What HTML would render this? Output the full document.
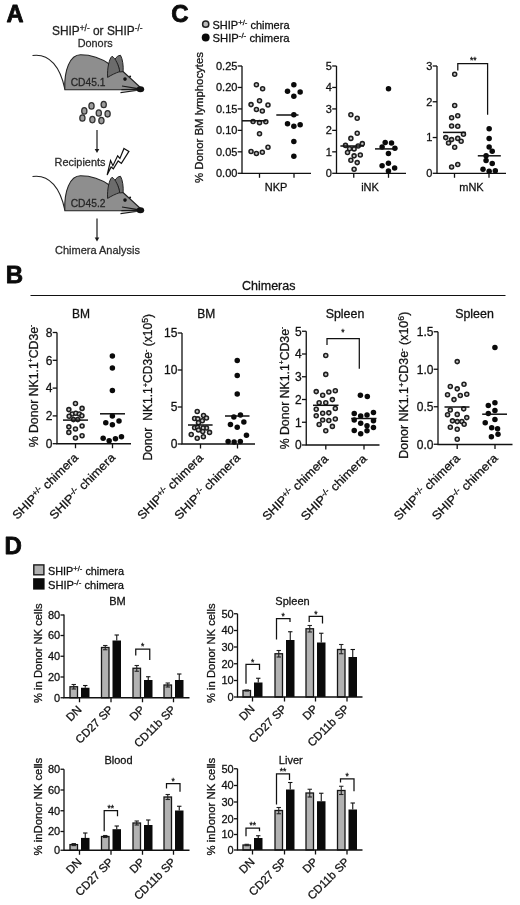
<!DOCTYPE html>
<html lang="en"><head><meta charset="utf-8"><title>SHIP chimera figure</title>
<style>html,body{margin:0;padding:0;background:#fff}body{width:520px;height:905px;overflow:hidden}svg{display:block;filter:blur(0.3px)}</style>
</head><body>
<svg width="520" height="905" viewBox="0 0 520 905" font-family='"Liberation Sans", sans-serif' fill="#111">
<rect width="520" height="905" fill="#fff"/>
<text x="6.50" y="22.20" font-size="23.6" font-weight="bold" fill="#0a0a0a" stroke="#0a0a0a" stroke-width="0.8" stroke-linejoin="round">A</text>
<text x="5.80" y="282.70" font-size="24" font-weight="bold" fill="#0a0a0a" stroke="#0a0a0a" stroke-width="0.8" stroke-linejoin="round">B</text>
<text x="171.30" y="22.10" font-size="24" font-weight="bold" fill="#0a0a0a" stroke="#0a0a0a" stroke-width="0.8" stroke-linejoin="round">C</text>
<text x="4.40" y="554.10" font-size="24" font-weight="bold" fill="#0a0a0a" stroke="#0a0a0a" stroke-width="0.8" stroke-linejoin="round">D</text>
<g id="panelA">
<text x="52.00" y="35.30" font-size="12" fill="#222" stroke="#222" stroke-width="0.28" textLength="90.5" lengthAdjust="spacingAndGlyphs">SHIP<tspan font-size="8.4" dy="-4.1">+/-</tspan><tspan dy="4.1"> or </tspan>SHIP<tspan font-size="8.4" dy="-4.1">-/-</tspan></text>
<text x="95.20" y="47.40" font-size="11.5" text-anchor="middle" fill="#2b2b2b" stroke="#2b2b2b" stroke-width="0.28" textLength="35.0" lengthAdjust="spacingAndGlyphs">Donors</text>
<g transform="translate(0 0)">
<path d="M32.5 55.5C50 53 60.5 68 64.8 89" stroke="#222" stroke-width="1.1" fill="none"/>
<path d="M64.8 89.7C64 70 70 54.8 80.5 54.8C92 54.8 103 59.5 110 64.5L123 71.5L141 88L139 89.7Z" stroke="#222" stroke-width="1.1" fill="#8e8e8e" stroke-linejoin="round"/>
<path d="M114.5 60C116 57 118.5 55.3 120.5 55.3C122.6 59 123.6 66 123.1 71.6L119.5 72C119 66 116.5 61.5 114.5 60Z" stroke="#222" stroke-width="1" fill="#6c6c6c" stroke-linejoin="round"/>
<path d="M107.6 77.4C107 68 109.5 58 112 56.3C115.5 58 119 66 119.7 71.6C116 72.7 110.5 75.5 107.6 77.4Z" stroke="#222" stroke-width="1" fill="#6c6c6c" stroke-linejoin="round"/>
<circle cx="125" cy="79.1" r="1.8" fill="#111"/><circle cx="130.1" cy="76.6" r="1" fill="#111"/>
<path d="M138 88.6L122 86M138 89.4L121.4 89.6M138 90.2L120.5 92.6" stroke="#1a1a1a" stroke-width="1.1" fill="none"/>
<ellipse cx="140.4" cy="89.2" rx="3.8" ry="3" fill="#111"/>
<text x="70.70" y="86.40" font-size="11.5" fill="#262626" stroke="#262626" stroke-width="0.28" textLength="34.8" lengthAdjust="spacingAndGlyphs">CD45.1</text>
</g>
<ellipse cx="91.5" cy="105.9" rx="2.6" ry="3.2" fill="#9c9c9c" stroke="#333" stroke-width="1.3"/>
<ellipse cx="103.7" cy="104.5" rx="2.6" ry="3.2" fill="#9c9c9c" stroke="#333" stroke-width="1.3"/>
<ellipse cx="84.3" cy="110.9" rx="2.6" ry="3.2" fill="#9c9c9c" stroke="#333" stroke-width="1.3"/>
<ellipse cx="98.8" cy="113" rx="2.6" ry="3.2" fill="#9c9c9c" stroke="#333" stroke-width="1.3"/>
<ellipse cx="107.6" cy="113.8" rx="2.6" ry="3.2" fill="#9c9c9c" stroke="#333" stroke-width="1.3"/>
<ellipse cx="82.4" cy="118" rx="2.6" ry="3.2" fill="#9c9c9c" stroke="#333" stroke-width="1.3"/>
<ellipse cx="92.4" cy="119.6" rx="2.6" ry="3.2" fill="#9c9c9c" stroke="#333" stroke-width="1.3"/>
<ellipse cx="101.4" cy="120.6" rx="2.6" ry="3.2" fill="#9c9c9c" stroke="#333" stroke-width="1.3"/>
<line x1="97.00" y1="130.00" x2="97.00" y2="151.00" stroke="#1a1a1a" stroke-width="1.2"/>
<path d="M94.7 149L97 153L99.3 149Z" fill="#1a1a1a"/>
<text x="54.50" y="166.25" font-size="11.5" fill="#2b2b2b" stroke="#2b2b2b" stroke-width="0.28" textLength="51.0" lengthAdjust="spacingAndGlyphs">Recipients</text>
<path d="M123.98 148.48L128.91 151.42L121.38 163.36L118.18 160.93L113.34 168.81L111.09 166.99L107.11 175.03L110.57 160.59L112.91 165.69L117.66 155.83L119.91 158.43Z" stroke="#111" stroke-width="1.2" fill="#fff" stroke-linejoin="miter"/>
<g transform="translate(0 121)">
<path d="M32.5 55.5C50 53 60.5 68 64.8 89" stroke="#222" stroke-width="1.1" fill="none"/>
<path d="M64.8 89.7C64 70 70 54.8 80.5 54.8C92 54.8 103 59.5 110 64.5L123 71.5L141 88L139 89.7Z" stroke="#222" stroke-width="1.1" fill="#8e8e8e" stroke-linejoin="round"/>
<path d="M114.5 60C116 57 118.5 55.3 120.5 55.3C122.6 59 123.6 66 123.1 71.6L119.5 72C119 66 116.5 61.5 114.5 60Z" stroke="#222" stroke-width="1" fill="#6c6c6c" stroke-linejoin="round"/>
<path d="M107.6 77.4C107 68 109.5 58 112 56.3C115.5 58 119 66 119.7 71.6C116 72.7 110.5 75.5 107.6 77.4Z" stroke="#222" stroke-width="1" fill="#6c6c6c" stroke-linejoin="round"/>
<circle cx="125" cy="79.1" r="1.8" fill="#111"/><circle cx="130.1" cy="76.6" r="1" fill="#111"/>
<path d="M138 88.6L122 86M138 89.4L121.4 89.6M138 90.2L120.5 92.6" stroke="#1a1a1a" stroke-width="1.1" fill="none"/>
<ellipse cx="140.4" cy="89.2" rx="3.8" ry="3" fill="#111"/>
<text x="70.70" y="86.40" font-size="11.5" fill="#262626" stroke="#262626" stroke-width="0.28" textLength="34.8" lengthAdjust="spacingAndGlyphs">CD45.2</text>
</g>
<line x1="97.00" y1="218.50" x2="97.00" y2="239.50" stroke="#1a1a1a" stroke-width="1.2"/>
<path d="M94.7 237.5L97 241.5L99.3 237.5Z" fill="#1a1a1a"/>
<text x="55.00" y="254.25" font-size="11.5" fill="#2b2b2b" stroke="#2b2b2b" stroke-width="0.28" textLength="85.0" lengthAdjust="spacingAndGlyphs">Chimera Analysis</text>
</g>
<g id="panelC">
<circle cx="205.7" cy="24.2" r="3.1" fill="#bdbdbd" stroke="#222" stroke-width="1.5"/>
<circle cx="205.7" cy="37.5" r="3.95" fill="#0a0a0a"/>
<text x="212.50" y="28.50" font-size="11" stroke="#111" stroke-width="0.28" textLength="77.0" lengthAdjust="spacingAndGlyphs">SHIP<tspan font-size="7.7" dy="-3.7">+/-</tspan><tspan dy="3.7"> chimera</tspan></text>
<text x="212.50" y="41.50" font-size="11" stroke="#111" stroke-width="0.28" textLength="77.0" lengthAdjust="spacingAndGlyphs">SHIP<tspan font-size="7.7" dy="-3.7">-/-</tspan><tspan dy="3.7"> chimera</tspan></text>
<text x="203.30" y="117.50" font-size="11.3" text-anchor="middle" transform="rotate(-90 203.30 117.50)" stroke="#111" stroke-width="0.28" textLength="131.0" lengthAdjust="spacingAndGlyphs">% Donor BM lymphocytes</text>
<path d="M242.00 66.00V173.30H311.00" stroke="#111" stroke-width="1.3" fill="none"/>
<line x1="237.70" y1="66.00" x2="242.00" y2="66.00" stroke="#111" stroke-width="1.3"/>
<text x="237.40" y="69.96" font-size="11" text-anchor="end" stroke="#111" stroke-width="0.28">0.25</text>
<line x1="237.70" y1="87.46" x2="242.00" y2="87.46" stroke="#111" stroke-width="1.3"/>
<text x="237.40" y="91.42" font-size="11" text-anchor="end" stroke="#111" stroke-width="0.28">0.20</text>
<line x1="237.70" y1="108.92" x2="242.00" y2="108.92" stroke="#111" stroke-width="1.3"/>
<text x="237.40" y="112.88" font-size="11" text-anchor="end" stroke="#111" stroke-width="0.28">0.15</text>
<line x1="237.70" y1="130.38" x2="242.00" y2="130.38" stroke="#111" stroke-width="1.3"/>
<text x="237.40" y="134.34" font-size="11" text-anchor="end" stroke="#111" stroke-width="0.28">0.10</text>
<line x1="237.70" y1="151.84" x2="242.00" y2="151.84" stroke="#111" stroke-width="1.3"/>
<text x="237.40" y="155.80" font-size="11" text-anchor="end" stroke="#111" stroke-width="0.28">0.05</text>
<line x1="237.70" y1="173.30" x2="242.00" y2="173.30" stroke="#111" stroke-width="1.3"/>
<text x="237.40" y="177.26" font-size="11" text-anchor="end" stroke="#111" stroke-width="0.28">0.00</text>
<line x1="259.50" y1="173.30" x2="259.50" y2="177.80" stroke="#111" stroke-width="1.3"/>
<line x1="294.00" y1="173.30" x2="294.00" y2="177.80" stroke="#111" stroke-width="1.3"/>
<text x="276.00" y="190.50" font-size="11" text-anchor="middle" stroke="#111" stroke-width="0.28">NKP</text>
<circle cx="256.42" cy="84.83" r="2.00" fill="#c8c8c8" stroke="#1e1e1e" stroke-width="1.55"/>
<circle cx="262.61" cy="88.73" r="2.00" fill="#c8c8c8" stroke="#1e1e1e" stroke-width="1.55"/>
<circle cx="259.52" cy="100.71" r="2.00" fill="#c8c8c8" stroke="#1e1e1e" stroke-width="1.55"/>
<circle cx="251.04" cy="104.61" r="2.00" fill="#c8c8c8" stroke="#1e1e1e" stroke-width="1.55"/>
<circle cx="267.99" cy="105.01" r="2.00" fill="#c8c8c8" stroke="#1e1e1e" stroke-width="1.55"/>
<circle cx="256.42" cy="109.45" r="2.00" fill="#c8c8c8" stroke="#1e1e1e" stroke-width="1.55"/>
<circle cx="262.34" cy="111.07" r="2.00" fill="#c8c8c8" stroke="#1e1e1e" stroke-width="1.55"/>
<circle cx="253.06" cy="121.57" r="2.00" fill="#c8c8c8" stroke="#1e1e1e" stroke-width="1.55"/>
<circle cx="259.52" cy="122.64" r="2.00" fill="#c8c8c8" stroke="#1e1e1e" stroke-width="1.55"/>
<circle cx="265.84" cy="121.70" r="2.00" fill="#c8c8c8" stroke="#1e1e1e" stroke-width="1.55"/>
<circle cx="259.52" cy="133.82" r="2.00" fill="#c8c8c8" stroke="#1e1e1e" stroke-width="1.55"/>
<circle cx="267.99" cy="147.27" r="2.00" fill="#c8c8c8" stroke="#1e1e1e" stroke-width="1.55"/>
<circle cx="251.04" cy="151.45" r="2.00" fill="#c8c8c8" stroke="#1e1e1e" stroke-width="1.55"/>
<circle cx="256.42" cy="153.47" r="2.00" fill="#c8c8c8" stroke="#1e1e1e" stroke-width="1.55"/>
<circle cx="262.34" cy="152.25" r="2.00" fill="#c8c8c8" stroke="#1e1e1e" stroke-width="1.55"/>
<circle cx="293.84" cy="84.83" r="2.75" fill="#0a0a0a"/>
<circle cx="287.51" cy="91.15" r="2.75" fill="#0a0a0a"/>
<circle cx="300.16" cy="92.09" r="2.75" fill="#0a0a0a"/>
<circle cx="293.84" cy="96.13" r="2.75" fill="#0a0a0a"/>
<circle cx="293.84" cy="114.70" r="2.75" fill="#0a0a0a"/>
<circle cx="287.51" cy="123.86" r="2.75" fill="#0a0a0a"/>
<circle cx="293.84" cy="126.14" r="2.75" fill="#0a0a0a"/>
<circle cx="300.16" cy="124.80" r="2.75" fill="#0a0a0a"/>
<circle cx="293.84" cy="141.49" r="2.75" fill="#0a0a0a"/>
<circle cx="293.84" cy="156.16" r="2.75" fill="#0a0a0a"/>
<line x1="242.00" y1="120.80" x2="266.30" y2="120.80" stroke="#111" stroke-width="1.5"/>
<line x1="276.30" y1="115.00" x2="298.50" y2="115.00" stroke="#111" stroke-width="1.5"/>
<path d="M336.50 66.00V173.30H406.00" stroke="#111" stroke-width="1.3" fill="none"/>
<line x1="332.20" y1="66.00" x2="336.50" y2="66.00" stroke="#111" stroke-width="1.3"/>
<text x="331.90" y="69.96" font-size="11" text-anchor="end" stroke="#111" stroke-width="0.28">5</text>
<line x1="332.20" y1="87.46" x2="336.50" y2="87.46" stroke="#111" stroke-width="1.3"/>
<text x="331.90" y="91.42" font-size="11" text-anchor="end" stroke="#111" stroke-width="0.28">4</text>
<line x1="332.20" y1="108.92" x2="336.50" y2="108.92" stroke="#111" stroke-width="1.3"/>
<text x="331.90" y="112.88" font-size="11" text-anchor="end" stroke="#111" stroke-width="0.28">3</text>
<line x1="332.20" y1="130.38" x2="336.50" y2="130.38" stroke="#111" stroke-width="1.3"/>
<text x="331.90" y="134.34" font-size="11" text-anchor="end" stroke="#111" stroke-width="0.28">2</text>
<line x1="332.20" y1="151.84" x2="336.50" y2="151.84" stroke="#111" stroke-width="1.3"/>
<text x="331.90" y="155.80" font-size="11" text-anchor="end" stroke="#111" stroke-width="0.28">1</text>
<line x1="332.20" y1="173.30" x2="336.50" y2="173.30" stroke="#111" stroke-width="1.3"/>
<text x="331.90" y="177.26" font-size="11" text-anchor="end" stroke="#111" stroke-width="0.28">0</text>
<line x1="353.75" y1="173.30" x2="353.75" y2="177.80" stroke="#111" stroke-width="1.3"/>
<line x1="388.50" y1="173.30" x2="388.50" y2="177.80" stroke="#111" stroke-width="1.3"/>
<text x="370.00" y="190.50" font-size="11" text-anchor="middle" stroke="#111" stroke-width="0.28">iNK</text>
<circle cx="350.88" cy="114.69" r="2.00" fill="#c8c8c8" stroke="#1e1e1e" stroke-width="1.55"/>
<circle cx="357.21" cy="118.19" r="2.00" fill="#c8c8c8" stroke="#1e1e1e" stroke-width="1.55"/>
<circle cx="357.21" cy="133.26" r="2.00" fill="#c8c8c8" stroke="#1e1e1e" stroke-width="1.55"/>
<circle cx="350.88" cy="138.38" r="2.00" fill="#c8c8c8" stroke="#1e1e1e" stroke-width="1.55"/>
<circle cx="362.32" cy="143.63" r="2.00" fill="#c8c8c8" stroke="#1e1e1e" stroke-width="1.55"/>
<circle cx="345.50" cy="145.38" r="2.00" fill="#c8c8c8" stroke="#1e1e1e" stroke-width="1.55"/>
<circle cx="358.15" cy="146.05" r="2.00" fill="#c8c8c8" stroke="#1e1e1e" stroke-width="1.55"/>
<circle cx="349.54" cy="148.74" r="2.00" fill="#c8c8c8" stroke="#1e1e1e" stroke-width="1.55"/>
<circle cx="354.11" cy="148.88" r="2.00" fill="#c8c8c8" stroke="#1e1e1e" stroke-width="1.55"/>
<circle cx="347.52" cy="152.51" r="2.00" fill="#c8c8c8" stroke="#1e1e1e" stroke-width="1.55"/>
<circle cx="360.30" cy="155.07" r="2.00" fill="#c8c8c8" stroke="#1e1e1e" stroke-width="1.55"/>
<circle cx="354.11" cy="155.87" r="2.00" fill="#c8c8c8" stroke="#1e1e1e" stroke-width="1.55"/>
<circle cx="350.88" cy="160.18" r="2.00" fill="#c8c8c8" stroke="#1e1e1e" stroke-width="1.55"/>
<circle cx="357.21" cy="162.60" r="2.00" fill="#c8c8c8" stroke="#1e1e1e" stroke-width="1.55"/>
<circle cx="354.11" cy="169.33" r="2.00" fill="#c8c8c8" stroke="#1e1e1e" stroke-width="1.55"/>
<circle cx="385.20" cy="142.42" r="2.75" fill="#0a0a0a"/>
<circle cx="391.53" cy="143.09" r="2.75" fill="#0a0a0a"/>
<circle cx="382.11" cy="146.99" r="2.75" fill="#0a0a0a"/>
<circle cx="394.89" cy="148.34" r="2.75" fill="#0a0a0a"/>
<circle cx="388.43" cy="153.45" r="2.75" fill="#0a0a0a"/>
<circle cx="382.11" cy="165.83" r="2.75" fill="#0a0a0a"/>
<circle cx="388.43" cy="163.14" r="2.75" fill="#0a0a0a"/>
<circle cx="394.62" cy="167.99" r="2.75" fill="#0a0a0a"/>
<circle cx="388.43" cy="170.95" r="2.75" fill="#0a0a0a"/>
<circle cx="388.50" cy="88.75" r="2.75" fill="#0a0a0a"/>
<line x1="340.40" y1="146.00" x2="364.00" y2="146.00" stroke="#111" stroke-width="1.5"/>
<line x1="375.00" y1="148.90" x2="397.00" y2="148.90" stroke="#111" stroke-width="1.5"/>
<path d="M437.00 66.00V173.30H506.00" stroke="#111" stroke-width="1.3" fill="none"/>
<line x1="432.70" y1="66.00" x2="437.00" y2="66.00" stroke="#111" stroke-width="1.3"/>
<text x="432.40" y="69.96" font-size="11" text-anchor="end" stroke="#111" stroke-width="0.28">3</text>
<line x1="432.70" y1="101.77" x2="437.00" y2="101.77" stroke="#111" stroke-width="1.3"/>
<text x="432.40" y="105.73" font-size="11" text-anchor="end" stroke="#111" stroke-width="0.28">2</text>
<line x1="432.70" y1="137.53" x2="437.00" y2="137.53" stroke="#111" stroke-width="1.3"/>
<text x="432.40" y="141.49" font-size="11" text-anchor="end" stroke="#111" stroke-width="0.28">1</text>
<line x1="432.70" y1="173.30" x2="437.00" y2="173.30" stroke="#111" stroke-width="1.3"/>
<text x="432.40" y="177.26" font-size="11" text-anchor="end" stroke="#111" stroke-width="0.28">0</text>
<line x1="454.50" y1="173.30" x2="454.50" y2="177.80" stroke="#111" stroke-width="1.3"/>
<line x1="489.00" y1="173.30" x2="489.00" y2="177.80" stroke="#111" stroke-width="1.3"/>
<text x="471.50" y="190.50" font-size="11" text-anchor="middle" stroke="#111" stroke-width="0.28">mNK</text>
<circle cx="454.69" cy="74.23" r="2.00" fill="#c8c8c8" stroke="#1e1e1e" stroke-width="1.55"/>
<circle cx="454.69" cy="105.46" r="2.00" fill="#c8c8c8" stroke="#1e1e1e" stroke-width="1.55"/>
<circle cx="457.77" cy="115.77" r="2.00" fill="#c8c8c8" stroke="#1e1e1e" stroke-width="1.55"/>
<circle cx="451.62" cy="117.77" r="2.00" fill="#c8c8c8" stroke="#1e1e1e" stroke-width="1.55"/>
<circle cx="451.62" cy="126.08" r="2.00" fill="#c8c8c8" stroke="#1e1e1e" stroke-width="1.55"/>
<circle cx="457.77" cy="126.23" r="2.00" fill="#c8c8c8" stroke="#1e1e1e" stroke-width="1.55"/>
<circle cx="463.46" cy="134.23" r="2.00" fill="#c8c8c8" stroke="#1e1e1e" stroke-width="1.55"/>
<circle cx="445.77" cy="137.62" r="2.00" fill="#c8c8c8" stroke="#1e1e1e" stroke-width="1.55"/>
<circle cx="451.62" cy="139.62" r="2.00" fill="#c8c8c8" stroke="#1e1e1e" stroke-width="1.55"/>
<circle cx="457.77" cy="138.38" r="2.00" fill="#c8c8c8" stroke="#1e1e1e" stroke-width="1.55"/>
<circle cx="448.54" cy="143.00" r="2.00" fill="#c8c8c8" stroke="#1e1e1e" stroke-width="1.55"/>
<circle cx="461.15" cy="141.15" r="2.00" fill="#c8c8c8" stroke="#1e1e1e" stroke-width="1.55"/>
<circle cx="454.69" cy="147.31" r="2.00" fill="#c8c8c8" stroke="#1e1e1e" stroke-width="1.55"/>
<circle cx="457.77" cy="164.54" r="2.00" fill="#c8c8c8" stroke="#1e1e1e" stroke-width="1.55"/>
<circle cx="451.62" cy="167.00" r="2.00" fill="#c8c8c8" stroke="#1e1e1e" stroke-width="1.55"/>
<circle cx="489.15" cy="128.85" r="2.75" fill="#0a0a0a"/>
<circle cx="489.15" cy="138.38" r="2.75" fill="#0a0a0a"/>
<circle cx="489.15" cy="147.00" r="2.75" fill="#0a0a0a"/>
<circle cx="492.23" cy="151.31" r="2.75" fill="#0a0a0a"/>
<circle cx="486.08" cy="155.77" r="2.75" fill="#0a0a0a"/>
<circle cx="486.08" cy="160.38" r="2.75" fill="#0a0a0a"/>
<circle cx="492.23" cy="163.62" r="2.75" fill="#0a0a0a"/>
<circle cx="483.00" cy="169.31" r="2.75" fill="#0a0a0a"/>
<circle cx="489.15" cy="171.15" r="2.75" fill="#0a0a0a"/>
<circle cx="495.31" cy="170.69" r="2.75" fill="#0a0a0a"/>
<line x1="443.00" y1="132.40" x2="465.80" y2="132.40" stroke="#111" stroke-width="1.5"/>
<line x1="477.80" y1="155.80" x2="500.80" y2="155.80" stroke="#111" stroke-width="1.5"/>
<path d="M457.80 70.40V63.50H487.60V114.70" stroke="#111" stroke-width="1.25" fill="none"/>
<text x="473.30" y="62.50" font-size="8.5" text-anchor="middle" stroke="#111" stroke-width="0.28">**</text>
</g>
<g id="panelB">
<text x="268.75" y="289.50" font-size="12.5" text-anchor="middle" stroke="#111" stroke-width="0.28" textLength="53.5" lengthAdjust="spacingAndGlyphs">Chimeras</text>
<line x1="30.50" y1="295.50" x2="505.50" y2="295.50" stroke="#111" stroke-width="1.1"/>
<text x="81.00" y="317.50" font-size="12" text-anchor="middle" stroke="#111" stroke-width="0.28">BM</text>
<path d="M57.00 332.50V443.75H131.00" stroke="#111" stroke-width="1.3" fill="none"/>
<line x1="52.70" y1="332.50" x2="57.00" y2="332.50" stroke="#111" stroke-width="1.3"/>
<text x="52.40" y="336.82" font-size="12" text-anchor="end" stroke="#111" stroke-width="0.28">8</text>
<line x1="52.70" y1="360.30" x2="57.00" y2="360.30" stroke="#111" stroke-width="1.3"/>
<text x="52.40" y="364.62" font-size="12" text-anchor="end" stroke="#111" stroke-width="0.28">6</text>
<line x1="52.70" y1="388.10" x2="57.00" y2="388.10" stroke="#111" stroke-width="1.3"/>
<text x="52.40" y="392.42" font-size="12" text-anchor="end" stroke="#111" stroke-width="0.28">4</text>
<line x1="52.70" y1="415.90" x2="57.00" y2="415.90" stroke="#111" stroke-width="1.3"/>
<text x="52.40" y="420.22" font-size="12" text-anchor="end" stroke="#111" stroke-width="0.28">2</text>
<line x1="52.70" y1="443.70" x2="57.00" y2="443.70" stroke="#111" stroke-width="1.3"/>
<text x="52.40" y="448.02" font-size="12" text-anchor="end" stroke="#111" stroke-width="0.28">0</text>
<line x1="75.50" y1="443.75" x2="75.50" y2="448.25" stroke="#111" stroke-width="1.3"/>
<line x1="112.50" y1="443.75" x2="112.50" y2="448.25" stroke="#111" stroke-width="1.3"/>
<text x="37.50" y="386.00" font-size="12" text-anchor="middle" transform="rotate(-90 37.50 386.00)" stroke="#111" stroke-width="0.28" textLength="122.5" lengthAdjust="spacingAndGlyphs">% Donor NK1.1<tspan font-size="6.6" dy="-4.6">+</tspan><tspan dy="4.6">CD3e</tspan><tspan font-size="6.6" dy="-4.6">-</tspan></text>
<circle cx="75.46" cy="403.46" r="2.00" fill="#c8c8c8" stroke="#1e1e1e" stroke-width="1.55"/>
<circle cx="68.85" cy="409.62" r="2.00" fill="#c8c8c8" stroke="#1e1e1e" stroke-width="1.55"/>
<circle cx="82.08" cy="408.38" r="2.00" fill="#c8c8c8" stroke="#1e1e1e" stroke-width="1.55"/>
<circle cx="72.23" cy="413.92" r="2.00" fill="#c8c8c8" stroke="#1e1e1e" stroke-width="1.55"/>
<circle cx="75.77" cy="413.15" r="2.00" fill="#c8c8c8" stroke="#1e1e1e" stroke-width="1.55"/>
<circle cx="79.31" cy="413.92" r="2.00" fill="#c8c8c8" stroke="#1e1e1e" stroke-width="1.55"/>
<circle cx="69.15" cy="416.23" r="2.00" fill="#c8c8c8" stroke="#1e1e1e" stroke-width="1.55"/>
<circle cx="81.92" cy="415.77" r="2.00" fill="#c8c8c8" stroke="#1e1e1e" stroke-width="1.55"/>
<circle cx="73.46" cy="419.62" r="2.00" fill="#c8c8c8" stroke="#1e1e1e" stroke-width="1.55"/>
<circle cx="77.77" cy="419.62" r="2.00" fill="#c8c8c8" stroke="#1e1e1e" stroke-width="1.55"/>
<circle cx="68.85" cy="426.85" r="2.00" fill="#c8c8c8" stroke="#1e1e1e" stroke-width="1.55"/>
<circle cx="82.08" cy="425.92" r="2.00" fill="#c8c8c8" stroke="#1e1e1e" stroke-width="1.55"/>
<circle cx="75.46" cy="429.00" r="2.00" fill="#c8c8c8" stroke="#1e1e1e" stroke-width="1.55"/>
<circle cx="68.85" cy="432.38" r="2.00" fill="#c8c8c8" stroke="#1e1e1e" stroke-width="1.55"/>
<circle cx="82.08" cy="435.77" r="2.00" fill="#c8c8c8" stroke="#1e1e1e" stroke-width="1.55"/>
<circle cx="75.46" cy="437.92" r="2.00" fill="#c8c8c8" stroke="#1e1e1e" stroke-width="1.55"/>
<circle cx="112.38" cy="356.08" r="2.75" fill="#0a0a0a"/>
<circle cx="112.38" cy="368.08" r="2.75" fill="#0a0a0a"/>
<circle cx="112.38" cy="390.38" r="2.75" fill="#0a0a0a"/>
<circle cx="112.38" cy="416.08" r="2.75" fill="#0a0a0a"/>
<circle cx="105.77" cy="422.85" r="2.75" fill="#0a0a0a"/>
<circle cx="119.00" cy="421.00" r="2.75" fill="#0a0a0a"/>
<circle cx="112.38" cy="424.69" r="2.75" fill="#0a0a0a"/>
<circle cx="103.15" cy="438.23" r="2.75" fill="#0a0a0a"/>
<circle cx="109.15" cy="440.69" r="2.75" fill="#0a0a0a"/>
<circle cx="115.46" cy="438.85" r="2.75" fill="#0a0a0a"/>
<circle cx="121.46" cy="436.85" r="2.75" fill="#0a0a0a"/>
<line x1="63.00" y1="420.10" x2="88.00" y2="420.10" stroke="#111" stroke-width="1.5"/>
<line x1="100.00" y1="413.80" x2="125.00" y2="413.80" stroke="#111" stroke-width="1.5"/>
<text x="79.00" y="458.25" font-size="12" text-anchor="end" transform="rotate(-45 79.00 458.25)" stroke="#111" stroke-width="0.28" textLength="87.5" lengthAdjust="spacingAndGlyphs">SHIP<tspan font-size="8.2" dy="-4.1">+/-</tspan><tspan dy="4.1"> chimera</tspan></text>
<text x="116.00" y="458.25" font-size="12" text-anchor="end" transform="rotate(-45 116.00 458.25)" stroke="#111" stroke-width="0.28" textLength="87.5" lengthAdjust="spacingAndGlyphs">SHIP<tspan font-size="8.2" dy="-4.1">-/-</tspan><tspan dy="4.1"> chimera</tspan></text>
<text x="206.25" y="317.50" font-size="12" text-anchor="middle" stroke="#111" stroke-width="0.28">BM</text>
<path d="M182.00 333.00V444.00H255.00" stroke="#111" stroke-width="1.3" fill="none"/>
<line x1="177.70" y1="333.00" x2="182.00" y2="333.00" stroke="#111" stroke-width="1.3"/>
<text x="177.40" y="337.32" font-size="12" text-anchor="end" stroke="#111" stroke-width="0.28">15</text>
<line x1="177.70" y1="370.00" x2="182.00" y2="370.00" stroke="#111" stroke-width="1.3"/>
<text x="177.40" y="374.32" font-size="12" text-anchor="end" stroke="#111" stroke-width="0.28">10</text>
<line x1="177.70" y1="407.00" x2="182.00" y2="407.00" stroke="#111" stroke-width="1.3"/>
<text x="177.40" y="411.32" font-size="12" text-anchor="end" stroke="#111" stroke-width="0.28">5</text>
<line x1="177.70" y1="444.00" x2="182.00" y2="444.00" stroke="#111" stroke-width="1.3"/>
<text x="177.40" y="448.32" font-size="12" text-anchor="end" stroke="#111" stroke-width="0.28">0</text>
<line x1="200.50" y1="444.00" x2="200.50" y2="448.50" stroke="#111" stroke-width="1.3"/>
<line x1="237.50" y1="444.00" x2="237.50" y2="448.50" stroke="#111" stroke-width="1.3"/>
<text x="151.90" y="460.60" font-size="12" transform="rotate(-90 151.90 460.60)" stroke="#111" stroke-width="0.28" letter-spacing="0.03">Donor<tspan dx="3.6"> NK1.1</tspan><tspan font-size="7.4" dy="-4.3">+</tspan><tspan dy="4.3">CD3e</tspan><tspan font-size="7.4" dy="-4.3">-</tspan><tspan dy="4.3"> (x10</tspan><tspan font-size="8.6" dy="-4.3">5</tspan><tspan dy="4.3">)</tspan></text>
<circle cx="197.23" cy="411.46" r="2.00" fill="#c8c8c8" stroke="#1e1e1e" stroke-width="1.55"/>
<circle cx="203.54" cy="415.46" r="2.00" fill="#c8c8c8" stroke="#1e1e1e" stroke-width="1.55"/>
<circle cx="194.62" cy="418.54" r="2.00" fill="#c8c8c8" stroke="#1e1e1e" stroke-width="1.55"/>
<circle cx="206.46" cy="418.08" r="2.00" fill="#c8c8c8" stroke="#1e1e1e" stroke-width="1.55"/>
<circle cx="197.85" cy="418.85" r="2.00" fill="#c8c8c8" stroke="#1e1e1e" stroke-width="1.55"/>
<circle cx="202.31" cy="420.69" r="2.00" fill="#c8c8c8" stroke="#1e1e1e" stroke-width="1.55"/>
<circle cx="198.46" cy="422.69" r="2.00" fill="#c8c8c8" stroke="#1e1e1e" stroke-width="1.55"/>
<circle cx="194.62" cy="427.77" r="2.00" fill="#c8c8c8" stroke="#1e1e1e" stroke-width="1.55"/>
<circle cx="206.46" cy="428.08" r="2.00" fill="#c8c8c8" stroke="#1e1e1e" stroke-width="1.55"/>
<circle cx="197.54" cy="427.46" r="2.00" fill="#c8c8c8" stroke="#1e1e1e" stroke-width="1.55"/>
<circle cx="203.08" cy="428.08" r="2.00" fill="#c8c8c8" stroke="#1e1e1e" stroke-width="1.55"/>
<circle cx="198.46" cy="429.92" r="2.00" fill="#c8c8c8" stroke="#1e1e1e" stroke-width="1.55"/>
<circle cx="202.77" cy="431.46" r="2.00" fill="#c8c8c8" stroke="#1e1e1e" stroke-width="1.55"/>
<circle cx="209.54" cy="432.38" r="2.00" fill="#c8c8c8" stroke="#1e1e1e" stroke-width="1.55"/>
<circle cx="191.23" cy="434.54" r="2.00" fill="#c8c8c8" stroke="#1e1e1e" stroke-width="1.55"/>
<circle cx="203.38" cy="436.69" r="2.00" fill="#c8c8c8" stroke="#1e1e1e" stroke-width="1.55"/>
<circle cx="197.23" cy="438.23" r="2.00" fill="#c8c8c8" stroke="#1e1e1e" stroke-width="1.55"/>
<circle cx="237.23" cy="360.38" r="2.75" fill="#0a0a0a"/>
<circle cx="237.23" cy="375.46" r="2.75" fill="#0a0a0a"/>
<circle cx="237.23" cy="393.92" r="2.75" fill="#0a0a0a"/>
<circle cx="240.46" cy="415.00" r="2.75" fill="#0a0a0a"/>
<circle cx="233.85" cy="417.00" r="2.75" fill="#0a0a0a"/>
<circle cx="243.85" cy="421.92" r="2.75" fill="#0a0a0a"/>
<circle cx="230.46" cy="424.38" r="2.75" fill="#0a0a0a"/>
<circle cx="237.23" cy="427.31" r="2.75" fill="#0a0a0a"/>
<circle cx="246.46" cy="435.15" r="2.75" fill="#0a0a0a"/>
<circle cx="228.15" cy="441.62" r="2.75" fill="#0a0a0a"/>
<circle cx="234.15" cy="441.92" r="2.75" fill="#0a0a0a"/>
<circle cx="240.31" cy="441.62" r="2.75" fill="#0a0a0a"/>
<line x1="188.00" y1="425.00" x2="212.60" y2="425.00" stroke="#111" stroke-width="1.5"/>
<line x1="225.00" y1="416.00" x2="249.50" y2="416.00" stroke="#111" stroke-width="1.5"/>
<text x="204.00" y="458.50" font-size="12" text-anchor="end" transform="rotate(-45 204.00 458.50)" stroke="#111" stroke-width="0.28" textLength="87.5" lengthAdjust="spacingAndGlyphs">SHIP<tspan font-size="8.2" dy="-4.1">+/-</tspan><tspan dy="4.1"> chimera</tspan></text>
<text x="241.00" y="458.50" font-size="12" text-anchor="end" transform="rotate(-45 241.00 458.50)" stroke="#111" stroke-width="0.28" textLength="87.5" lengthAdjust="spacingAndGlyphs">SHIP<tspan font-size="8.2" dy="-4.1">-/-</tspan><tspan dy="4.1"> chimera</tspan></text>
<text x="345.00" y="317.50" font-size="12.4" text-anchor="middle" stroke="#111" stroke-width="0.28">Spleen</text>
<path d="M306.25 331.25V445.00H379.50" stroke="#111" stroke-width="1.3" fill="none"/>
<line x1="301.95" y1="331.25" x2="306.25" y2="331.25" stroke="#111" stroke-width="1.3"/>
<text x="301.65" y="335.57" font-size="12" text-anchor="end" stroke="#111" stroke-width="0.28">5</text>
<line x1="301.95" y1="354.00" x2="306.25" y2="354.00" stroke="#111" stroke-width="1.3"/>
<text x="301.65" y="358.32" font-size="12" text-anchor="end" stroke="#111" stroke-width="0.28">4</text>
<line x1="301.95" y1="376.75" x2="306.25" y2="376.75" stroke="#111" stroke-width="1.3"/>
<text x="301.65" y="381.07" font-size="12" text-anchor="end" stroke="#111" stroke-width="0.28">3</text>
<line x1="301.95" y1="399.50" x2="306.25" y2="399.50" stroke="#111" stroke-width="1.3"/>
<text x="301.65" y="403.82" font-size="12" text-anchor="end" stroke="#111" stroke-width="0.28">2</text>
<line x1="301.95" y1="422.25" x2="306.25" y2="422.25" stroke="#111" stroke-width="1.3"/>
<text x="301.65" y="426.57" font-size="12" text-anchor="end" stroke="#111" stroke-width="0.28">1</text>
<line x1="301.95" y1="445.00" x2="306.25" y2="445.00" stroke="#111" stroke-width="1.3"/>
<text x="301.65" y="449.32" font-size="12" text-anchor="end" stroke="#111" stroke-width="0.28">0</text>
<line x1="325.80" y1="445.00" x2="325.80" y2="449.50" stroke="#111" stroke-width="1.3"/>
<line x1="364.00" y1="445.00" x2="364.00" y2="449.50" stroke="#111" stroke-width="1.3"/>
<text x="288.80" y="388.00" font-size="12" text-anchor="middle" transform="rotate(-90 288.80 388.00)" stroke="#111" stroke-width="0.28" textLength="122.5" lengthAdjust="spacingAndGlyphs">% Donor NK1.1<tspan font-size="6.6" dy="-4.6">+</tspan><tspan dy="4.6">CD3e</tspan><tspan font-size="6.6" dy="-4.6">-</tspan></text>
<circle cx="325.77" cy="355.46" r="2.00" fill="#c8c8c8" stroke="#1e1e1e" stroke-width="1.55"/>
<circle cx="325.77" cy="374.38" r="2.00" fill="#c8c8c8" stroke="#1e1e1e" stroke-width="1.55"/>
<circle cx="316.23" cy="391.62" r="2.00" fill="#c8c8c8" stroke="#1e1e1e" stroke-width="1.55"/>
<circle cx="328.85" cy="391.92" r="2.00" fill="#c8c8c8" stroke="#1e1e1e" stroke-width="1.55"/>
<circle cx="335.31" cy="390.69" r="2.00" fill="#c8c8c8" stroke="#1e1e1e" stroke-width="1.55"/>
<circle cx="322.69" cy="395.31" r="2.00" fill="#c8c8c8" stroke="#1e1e1e" stroke-width="1.55"/>
<circle cx="332.38" cy="399.62" r="2.00" fill="#c8c8c8" stroke="#1e1e1e" stroke-width="1.55"/>
<circle cx="319.15" cy="402.69" r="2.00" fill="#c8c8c8" stroke="#1e1e1e" stroke-width="1.55"/>
<circle cx="325.77" cy="402.69" r="2.00" fill="#c8c8c8" stroke="#1e1e1e" stroke-width="1.55"/>
<circle cx="316.23" cy="409.31" r="2.00" fill="#c8c8c8" stroke="#1e1e1e" stroke-width="1.55"/>
<circle cx="335.31" cy="408.54" r="2.00" fill="#c8c8c8" stroke="#1e1e1e" stroke-width="1.55"/>
<circle cx="322.69" cy="413.15" r="2.00" fill="#c8c8c8" stroke="#1e1e1e" stroke-width="1.55"/>
<circle cx="328.85" cy="412.85" r="2.00" fill="#c8c8c8" stroke="#1e1e1e" stroke-width="1.55"/>
<circle cx="316.23" cy="415.77" r="2.00" fill="#c8c8c8" stroke="#1e1e1e" stroke-width="1.55"/>
<circle cx="322.69" cy="419.92" r="2.00" fill="#c8c8c8" stroke="#1e1e1e" stroke-width="1.55"/>
<circle cx="328.85" cy="420.54" r="2.00" fill="#c8c8c8" stroke="#1e1e1e" stroke-width="1.55"/>
<circle cx="335.31" cy="419.00" r="2.00" fill="#c8c8c8" stroke="#1e1e1e" stroke-width="1.55"/>
<circle cx="319.15" cy="424.54" r="2.00" fill="#c8c8c8" stroke="#1e1e1e" stroke-width="1.55"/>
<circle cx="332.38" cy="426.38" r="2.00" fill="#c8c8c8" stroke="#1e1e1e" stroke-width="1.55"/>
<circle cx="325.77" cy="430.69" r="2.00" fill="#c8c8c8" stroke="#1e1e1e" stroke-width="1.55"/>
<circle cx="360.38" cy="395.31" r="2.75" fill="#0a0a0a"/>
<circle cx="367.31" cy="396.54" r="2.75" fill="#0a0a0a"/>
<circle cx="354.23" cy="413.46" r="2.75" fill="#0a0a0a"/>
<circle cx="373.46" cy="412.38" r="2.75" fill="#0a0a0a"/>
<circle cx="360.69" cy="415.92" r="2.75" fill="#0a0a0a"/>
<circle cx="367.00" cy="415.00" r="2.75" fill="#0a0a0a"/>
<circle cx="354.23" cy="419.92" r="2.75" fill="#0a0a0a"/>
<circle cx="373.46" cy="420.85" r="2.75" fill="#0a0a0a"/>
<circle cx="360.69" cy="423.15" r="2.75" fill="#0a0a0a"/>
<circle cx="367.00" cy="425.77" r="2.75" fill="#0a0a0a"/>
<circle cx="373.46" cy="427.62" r="2.75" fill="#0a0a0a"/>
<circle cx="354.23" cy="430.38" r="2.75" fill="#0a0a0a"/>
<circle cx="367.00" cy="430.69" r="2.75" fill="#0a0a0a"/>
<circle cx="360.69" cy="433.77" r="2.75" fill="#0a0a0a"/>
<line x1="313.00" y1="405.30" x2="338.50" y2="405.30" stroke="#111" stroke-width="1.5"/>
<line x1="351.20" y1="418.50" x2="376.50" y2="418.50" stroke="#111" stroke-width="1.5"/>
<path d="M327.00 345.00V338.60H359.30V368.80" stroke="#111" stroke-width="1.25" fill="none"/>
<text x="343.00" y="335.30" font-size="8.5" text-anchor="middle" stroke="#111" stroke-width="0.28">*</text>
<text x="329.00" y="459.50" font-size="12" text-anchor="end" transform="rotate(-45 329.00 459.50)" stroke="#111" stroke-width="0.28" textLength="87.5" lengthAdjust="spacingAndGlyphs">SHIP<tspan font-size="8.2" dy="-4.1">+/-</tspan><tspan dy="4.1"> chimera</tspan></text>
<text x="367.50" y="459.50" font-size="12" text-anchor="end" transform="rotate(-45 367.50 459.50)" stroke="#111" stroke-width="0.28" textLength="87.5" lengthAdjust="spacingAndGlyphs">SHIP<tspan font-size="8.2" dy="-4.1">-/-</tspan><tspan dy="4.1"> chimera</tspan></text>
<text x="474.50" y="317.50" font-size="12.4" text-anchor="middle" stroke="#111" stroke-width="0.28">Spleen</text>
<path d="M438.00 331.75V444.50H512.50" stroke="#111" stroke-width="1.3" fill="none"/>
<line x1="433.70" y1="331.75" x2="438.00" y2="331.75" stroke="#111" stroke-width="1.3"/>
<text x="433.40" y="336.07" font-size="12" text-anchor="end" stroke="#111" stroke-width="0.28">1.5</text>
<line x1="433.70" y1="369.25" x2="438.00" y2="369.25" stroke="#111" stroke-width="1.3"/>
<text x="433.40" y="373.57" font-size="12" text-anchor="end" stroke="#111" stroke-width="0.28">1.0</text>
<line x1="433.70" y1="406.75" x2="438.00" y2="406.75" stroke="#111" stroke-width="1.3"/>
<text x="433.40" y="411.07" font-size="12" text-anchor="end" stroke="#111" stroke-width="0.28">0.5</text>
<line x1="433.70" y1="444.25" x2="438.00" y2="444.25" stroke="#111" stroke-width="1.3"/>
<text x="433.40" y="448.57" font-size="12" text-anchor="end" stroke="#111" stroke-width="0.28">0.0</text>
<line x1="457.20" y1="444.50" x2="457.20" y2="449.00" stroke="#111" stroke-width="1.3"/>
<line x1="495.00" y1="444.50" x2="495.00" y2="449.00" stroke="#111" stroke-width="1.3"/>
<text x="408.40" y="458.70" font-size="12" transform="rotate(-90 408.40 458.70)" stroke="#111" stroke-width="0.28" textLength="147.0" lengthAdjust="spacingAndGlyphs">Donor<tspan dx="0"> NK1.1</tspan><tspan font-size="7.4" dy="-4.3">+</tspan><tspan dy="4.3">CD3e</tspan><tspan font-size="7.4" dy="-4.3">-</tspan><tspan dy="4.3"> (x10</tspan><tspan font-size="8.6" dy="-4.3">6</tspan><tspan dy="4.3">)</tspan></text>
<circle cx="457.23" cy="361.62" r="2.00" fill="#c8c8c8" stroke="#1e1e1e" stroke-width="1.55"/>
<circle cx="464.00" cy="384.23" r="2.00" fill="#c8c8c8" stroke="#1e1e1e" stroke-width="1.55"/>
<circle cx="450.31" cy="386.54" r="2.00" fill="#c8c8c8" stroke="#1e1e1e" stroke-width="1.55"/>
<circle cx="457.23" cy="388.85" r="2.00" fill="#c8c8c8" stroke="#1e1e1e" stroke-width="1.55"/>
<circle cx="447.54" cy="394.69" r="2.00" fill="#c8c8c8" stroke="#1e1e1e" stroke-width="1.55"/>
<circle cx="460.31" cy="395.46" r="2.00" fill="#c8c8c8" stroke="#1e1e1e" stroke-width="1.55"/>
<circle cx="466.77" cy="394.23" r="2.00" fill="#c8c8c8" stroke="#1e1e1e" stroke-width="1.55"/>
<circle cx="454.00" cy="399.62" r="2.00" fill="#c8c8c8" stroke="#1e1e1e" stroke-width="1.55"/>
<circle cx="463.69" cy="408.85" r="2.00" fill="#c8c8c8" stroke="#1e1e1e" stroke-width="1.55"/>
<circle cx="450.31" cy="409.92" r="2.00" fill="#c8c8c8" stroke="#1e1e1e" stroke-width="1.55"/>
<circle cx="447.54" cy="414.69" r="2.00" fill="#c8c8c8" stroke="#1e1e1e" stroke-width="1.55"/>
<circle cx="457.23" cy="414.38" r="2.00" fill="#c8c8c8" stroke="#1e1e1e" stroke-width="1.55"/>
<circle cx="466.77" cy="417.62" r="2.00" fill="#c8c8c8" stroke="#1e1e1e" stroke-width="1.55"/>
<circle cx="452.46" cy="420.85" r="2.00" fill="#c8c8c8" stroke="#1e1e1e" stroke-width="1.55"/>
<circle cx="457.23" cy="421.62" r="2.00" fill="#c8c8c8" stroke="#1e1e1e" stroke-width="1.55"/>
<circle cx="461.85" cy="421.46" r="2.00" fill="#c8c8c8" stroke="#1e1e1e" stroke-width="1.55"/>
<circle cx="464.15" cy="424.23" r="2.00" fill="#c8c8c8" stroke="#1e1e1e" stroke-width="1.55"/>
<circle cx="450.31" cy="427.31" r="2.00" fill="#c8c8c8" stroke="#1e1e1e" stroke-width="1.55"/>
<circle cx="457.23" cy="429.15" r="2.00" fill="#c8c8c8" stroke="#1e1e1e" stroke-width="1.55"/>
<circle cx="457.23" cy="439.15" r="2.00" fill="#c8c8c8" stroke="#1e1e1e" stroke-width="1.55"/>
<circle cx="494.92" cy="347.62" r="2.75" fill="#0a0a0a"/>
<circle cx="494.92" cy="402.69" r="2.75" fill="#0a0a0a"/>
<circle cx="488.31" cy="405.46" r="2.75" fill="#0a0a0a"/>
<circle cx="494.92" cy="410.38" r="2.75" fill="#0a0a0a"/>
<circle cx="488.31" cy="413.46" r="2.75" fill="#0a0a0a"/>
<circle cx="494.92" cy="419.62" r="2.75" fill="#0a0a0a"/>
<circle cx="485.23" cy="422.69" r="2.75" fill="#0a0a0a"/>
<circle cx="491.69" cy="427.77" r="2.75" fill="#0a0a0a"/>
<circle cx="497.54" cy="428.85" r="2.75" fill="#0a0a0a"/>
<circle cx="498.00" cy="434.23" r="2.75" fill="#0a0a0a"/>
<circle cx="491.38" cy="436.85" r="2.75" fill="#0a0a0a"/>
<line x1="444.50" y1="407.00" x2="469.50" y2="407.00" stroke="#111" stroke-width="1.5"/>
<line x1="482.20" y1="414.20" x2="507.00" y2="414.20" stroke="#111" stroke-width="1.5"/>
<text x="460.70" y="459.00" font-size="12" text-anchor="end" transform="rotate(-45 460.70 459.00)" stroke="#111" stroke-width="0.28" textLength="87.5" lengthAdjust="spacingAndGlyphs">SHIP<tspan font-size="8.2" dy="-4.1">+/-</tspan><tspan dy="4.1"> chimera</tspan></text>
<text x="498.50" y="459.00" font-size="12" text-anchor="end" transform="rotate(-45 498.50 459.00)" stroke="#111" stroke-width="0.28" textLength="87.5" lengthAdjust="spacingAndGlyphs">SHIP<tspan font-size="8.2" dy="-4.1">-/-</tspan><tspan dy="4.1"> chimera</tspan></text>
</g>
<g id="panelD">
<rect x="33.8" y="564.9" width="10.1" height="9.9" fill="#b0b0b0" stroke="#1a1a1a" stroke-width="1.4"/>
<rect x="33.1" y="578.2" width="11.5" height="11.4" fill="#0a0a0a"/>
<text x="48.00" y="574.50" font-size="11" stroke="#111" stroke-width="0.28" textLength="76.0" lengthAdjust="spacingAndGlyphs">SHIP<tspan font-size="7.7" dy="-3.7">+/-</tspan><tspan dy="3.7"> chimera</tspan></text>
<text x="48.00" y="588.50" font-size="11" stroke="#111" stroke-width="0.28" textLength="76.0" lengthAdjust="spacingAndGlyphs">SHIP<tspan font-size="7.7" dy="-3.7">-/-</tspan><tspan dy="3.7"> chimera</tspan></text>
<rect x="70.00" y="686.75" width="7.50" height="11.00" fill="#b2b2b2" stroke="#151515" stroke-width="1.3"/>
<line x1="73.75" y1="684.50" x2="73.75" y2="689.00" stroke="#222" stroke-width="1.1"/>
<line x1="71.55" y1="684.50" x2="75.95" y2="684.50" stroke="#222" stroke-width="1.1"/>
<line x1="71.55" y1="689.00" x2="75.95" y2="689.00" stroke="#222" stroke-width="1.1"/>
<rect x="81.00" y="687.75" width="8.50" height="10.00" fill="#0a0a0a"/>
<line x1="85.25" y1="685.50" x2="85.25" y2="687.75" stroke="#111" stroke-width="1.1"/>
<line x1="83.05" y1="685.50" x2="87.45" y2="685.50" stroke="#111" stroke-width="1.1"/>
<rect x="101.50" y="647.50" width="7.50" height="50.25" fill="#b2b2b2" stroke="#151515" stroke-width="1.3"/>
<line x1="105.25" y1="645.50" x2="105.25" y2="649.75" stroke="#222" stroke-width="1.1"/>
<line x1="103.05" y1="645.50" x2="107.45" y2="645.50" stroke="#222" stroke-width="1.1"/>
<line x1="103.05" y1="649.75" x2="107.45" y2="649.75" stroke="#222" stroke-width="1.1"/>
<rect x="112.50" y="640.50" width="8.50" height="57.25" fill="#0a0a0a"/>
<line x1="116.75" y1="635.00" x2="116.75" y2="640.50" stroke="#111" stroke-width="1.1"/>
<line x1="114.55" y1="635.00" x2="118.95" y2="635.00" stroke="#111" stroke-width="1.1"/>
<rect x="133.00" y="668.25" width="7.50" height="29.50" fill="#b2b2b2" stroke="#151515" stroke-width="1.3"/>
<line x1="136.75" y1="665.50" x2="136.75" y2="671.25" stroke="#222" stroke-width="1.1"/>
<line x1="134.55" y1="665.50" x2="138.95" y2="665.50" stroke="#222" stroke-width="1.1"/>
<line x1="134.55" y1="671.25" x2="138.95" y2="671.25" stroke="#222" stroke-width="1.1"/>
<rect x="144.00" y="680.00" width="8.50" height="17.75" fill="#0a0a0a"/>
<line x1="148.25" y1="676.75" x2="148.25" y2="680.00" stroke="#111" stroke-width="1.1"/>
<line x1="146.05" y1="676.75" x2="150.45" y2="676.75" stroke="#111" stroke-width="1.1"/>
<rect x="164.00" y="685.00" width="7.50" height="12.75" fill="#b2b2b2" stroke="#151515" stroke-width="1.3"/>
<line x1="167.75" y1="683.00" x2="167.75" y2="687.00" stroke="#222" stroke-width="1.1"/>
<line x1="165.55" y1="683.00" x2="169.95" y2="683.00" stroke="#222" stroke-width="1.1"/>
<line x1="165.55" y1="687.00" x2="169.95" y2="687.00" stroke="#222" stroke-width="1.1"/>
<rect x="175.00" y="680.00" width="8.50" height="17.75" fill="#0a0a0a"/>
<line x1="179.25" y1="674.00" x2="179.25" y2="680.00" stroke="#111" stroke-width="1.1"/>
<line x1="177.05" y1="674.00" x2="181.45" y2="674.00" stroke="#111" stroke-width="1.1"/>
<path d="M64.00 614.50V697.75H189.50" stroke="#111" stroke-width="1.3" fill="none"/>
<line x1="60.50" y1="615.00" x2="64.00" y2="615.00" stroke="#111" stroke-width="1.3"/>
<text x="60.20" y="618.96" font-size="11" text-anchor="end" stroke="#111" stroke-width="0.28">80</text>
<line x1="60.50" y1="635.50" x2="64.00" y2="635.50" stroke="#111" stroke-width="1.3"/>
<text x="60.20" y="639.46" font-size="11" text-anchor="end" stroke="#111" stroke-width="0.28">60</text>
<line x1="60.50" y1="656.25" x2="64.00" y2="656.25" stroke="#111" stroke-width="1.3"/>
<text x="60.20" y="660.21" font-size="11" text-anchor="end" stroke="#111" stroke-width="0.28">40</text>
<line x1="60.50" y1="677.00" x2="64.00" y2="677.00" stroke="#111" stroke-width="1.3"/>
<text x="60.20" y="680.96" font-size="11" text-anchor="end" stroke="#111" stroke-width="0.28">20</text>
<line x1="60.50" y1="697.75" x2="64.00" y2="697.75" stroke="#111" stroke-width="1.3"/>
<text x="60.20" y="701.71" font-size="11" text-anchor="end" stroke="#111" stroke-width="0.28">0</text>
<line x1="79.50" y1="697.75" x2="79.50" y2="702.25" stroke="#111" stroke-width="1.3"/>
<line x1="111.00" y1="697.75" x2="111.00" y2="702.25" stroke="#111" stroke-width="1.3"/>
<line x1="142.50" y1="697.75" x2="142.50" y2="702.25" stroke="#111" stroke-width="1.3"/>
<line x1="173.50" y1="697.75" x2="173.50" y2="702.25" stroke="#111" stroke-width="1.3"/>
<text x="117.50" y="605.00" font-size="11" text-anchor="middle" stroke="#111" stroke-width="0.28">BM</text>
<text x="42.00" y="653.20" font-size="11.2" text-anchor="middle" transform="rotate(-90 42.00 653.20)" stroke="#111" stroke-width="0.28" textLength="99.5" lengthAdjust="spacingAndGlyphs">% in Donor NK cells</text>
<text x="82.50" y="710.25" font-size="11.5" text-anchor="end" transform="rotate(-45 82.50 710.25)" stroke="#111" stroke-width="0.28">DN</text>
<text x="114.00" y="710.25" font-size="11.5" text-anchor="end" transform="rotate(-45 114.00 710.25)" stroke="#111" stroke-width="0.28">CD27 SP</text>
<text x="145.50" y="710.25" font-size="11.5" text-anchor="end" transform="rotate(-45 145.50 710.25)" stroke="#111" stroke-width="0.28">DP</text>
<text x="176.50" y="710.25" font-size="11.5" text-anchor="end" transform="rotate(-45 176.50 710.25)" stroke="#111" stroke-width="0.28">CD11b SP</text>
<path d="M135.75 655.50V649.00H149.75V660.00" stroke="#111" stroke-width="1.25" fill="none"/>
<text x="142.75" y="649.30" font-size="8.5" text-anchor="middle" stroke="#111" stroke-width="0.28">*</text>
<rect x="243.00" y="690.50" width="7.50" height="6.50" fill="#b2b2b2" stroke="#151515" stroke-width="1.3"/>
<line x1="246.75" y1="690.00" x2="246.75" y2="691.00" stroke="#222" stroke-width="1.1"/>
<line x1="244.55" y1="690.00" x2="248.95" y2="690.00" stroke="#222" stroke-width="1.1"/>
<line x1="244.55" y1="691.00" x2="248.95" y2="691.00" stroke="#222" stroke-width="1.1"/>
<rect x="254.00" y="682.50" width="8.50" height="14.50" fill="#0a0a0a"/>
<line x1="258.25" y1="678.25" x2="258.25" y2="682.50" stroke="#111" stroke-width="1.1"/>
<line x1="256.05" y1="678.25" x2="260.45" y2="678.25" stroke="#111" stroke-width="1.1"/>
<rect x="275.00" y="653.75" width="7.50" height="43.25" fill="#b2b2b2" stroke="#151515" stroke-width="1.3"/>
<line x1="278.75" y1="650.50" x2="278.75" y2="657.00" stroke="#222" stroke-width="1.1"/>
<line x1="276.55" y1="650.50" x2="280.95" y2="650.50" stroke="#222" stroke-width="1.1"/>
<line x1="276.55" y1="657.00" x2="280.95" y2="657.00" stroke="#222" stroke-width="1.1"/>
<rect x="286.00" y="640.00" width="8.50" height="57.00" fill="#0a0a0a"/>
<line x1="290.25" y1="631.75" x2="290.25" y2="640.00" stroke="#111" stroke-width="1.1"/>
<line x1="288.05" y1="631.75" x2="292.45" y2="631.75" stroke="#111" stroke-width="1.1"/>
<rect x="306.00" y="628.75" width="7.50" height="68.25" fill="#b2b2b2" stroke="#151515" stroke-width="1.3"/>
<line x1="309.75" y1="625.50" x2="309.75" y2="632.00" stroke="#222" stroke-width="1.1"/>
<line x1="307.55" y1="625.50" x2="311.95" y2="625.50" stroke="#222" stroke-width="1.1"/>
<line x1="307.55" y1="632.00" x2="311.95" y2="632.00" stroke="#222" stroke-width="1.1"/>
<rect x="317.00" y="642.50" width="8.50" height="54.50" fill="#0a0a0a"/>
<line x1="321.25" y1="633.25" x2="321.25" y2="642.50" stroke="#111" stroke-width="1.1"/>
<line x1="319.05" y1="633.25" x2="323.45" y2="633.25" stroke="#111" stroke-width="1.1"/>
<rect x="337.50" y="649.50" width="7.50" height="47.50" fill="#b2b2b2" stroke="#151515" stroke-width="1.3"/>
<line x1="341.25" y1="644.50" x2="341.25" y2="653.75" stroke="#222" stroke-width="1.1"/>
<line x1="339.05" y1="644.50" x2="343.45" y2="644.50" stroke="#222" stroke-width="1.1"/>
<line x1="339.05" y1="653.75" x2="343.45" y2="653.75" stroke="#222" stroke-width="1.1"/>
<rect x="348.50" y="657.00" width="8.50" height="40.00" fill="#0a0a0a"/>
<line x1="352.75" y1="649.50" x2="352.75" y2="657.00" stroke="#111" stroke-width="1.1"/>
<line x1="350.55" y1="649.50" x2="354.95" y2="649.50" stroke="#111" stroke-width="1.1"/>
<path d="M237.50 613.75V697.00H362.50" stroke="#111" stroke-width="1.3" fill="none"/>
<line x1="234.00" y1="613.75" x2="237.50" y2="613.75" stroke="#111" stroke-width="1.3"/>
<text x="233.70" y="617.71" font-size="11" text-anchor="end" stroke="#111" stroke-width="0.28">50</text>
<line x1="234.00" y1="630.50" x2="237.50" y2="630.50" stroke="#111" stroke-width="1.3"/>
<text x="233.70" y="634.46" font-size="11" text-anchor="end" stroke="#111" stroke-width="0.28">40</text>
<line x1="234.00" y1="647.00" x2="237.50" y2="647.00" stroke="#111" stroke-width="1.3"/>
<text x="233.70" y="650.96" font-size="11" text-anchor="end" stroke="#111" stroke-width="0.28">30</text>
<line x1="234.00" y1="663.75" x2="237.50" y2="663.75" stroke="#111" stroke-width="1.3"/>
<text x="233.70" y="667.71" font-size="11" text-anchor="end" stroke="#111" stroke-width="0.28">20</text>
<line x1="234.00" y1="680.50" x2="237.50" y2="680.50" stroke="#111" stroke-width="1.3"/>
<text x="233.70" y="684.46" font-size="11" text-anchor="end" stroke="#111" stroke-width="0.28">10</text>
<line x1="234.00" y1="697.00" x2="237.50" y2="697.00" stroke="#111" stroke-width="1.3"/>
<text x="233.70" y="700.96" font-size="11" text-anchor="end" stroke="#111" stroke-width="0.28">0</text>
<line x1="252.50" y1="697.00" x2="252.50" y2="701.50" stroke="#111" stroke-width="1.3"/>
<line x1="284.50" y1="697.00" x2="284.50" y2="701.50" stroke="#111" stroke-width="1.3"/>
<line x1="315.50" y1="697.00" x2="315.50" y2="701.50" stroke="#111" stroke-width="1.3"/>
<line x1="347.00" y1="697.00" x2="347.00" y2="701.50" stroke="#111" stroke-width="1.3"/>
<text x="292.50" y="605.00" font-size="11" text-anchor="middle" stroke="#111" stroke-width="0.28">Spleen</text>
<text x="215.50" y="653.20" font-size="11.2" text-anchor="middle" transform="rotate(-90 215.50 653.20)" stroke="#111" stroke-width="0.28" textLength="99.5" lengthAdjust="spacingAndGlyphs">% in Donor NK cells</text>
<text x="255.50" y="709.50" font-size="11.5" text-anchor="end" transform="rotate(-45 255.50 709.50)" stroke="#111" stroke-width="0.28">DN</text>
<text x="287.50" y="709.50" font-size="11.5" text-anchor="end" transform="rotate(-45 287.50 709.50)" stroke="#111" stroke-width="0.28">CD27 SP</text>
<text x="318.50" y="709.50" font-size="11.5" text-anchor="end" transform="rotate(-45 318.50 709.50)" stroke="#111" stroke-width="0.28">DP</text>
<text x="350.00" y="709.50" font-size="11.5" text-anchor="end" transform="rotate(-45 350.00 709.50)" stroke="#111" stroke-width="0.28">CD11b SP</text>
<path d="M246.00 683.80V664.40H259.50V670.00" stroke="#111" stroke-width="1.25" fill="none"/>
<text x="252.75" y="664.70" font-size="8.5" text-anchor="middle" stroke="#111" stroke-width="0.28">*</text>
<path d="M276.50 639.40V618.70H290.00V622.10" stroke="#111" stroke-width="1.25" fill="none"/>
<text x="283.25" y="619.00" font-size="8.5" text-anchor="middle" stroke="#111" stroke-width="0.28">*</text>
<path d="M309.20 622.10V616.30H322.50V623.50" stroke="#111" stroke-width="1.25" fill="none"/>
<text x="315.85" y="616.60" font-size="8.5" text-anchor="middle" stroke="#111" stroke-width="0.28">*</text>
<rect x="70.00" y="844.60" width="7.50" height="5.65" fill="#b2b2b2" stroke="#151515" stroke-width="1.3"/>
<line x1="73.75" y1="843.60" x2="73.75" y2="845.60" stroke="#222" stroke-width="1.1"/>
<line x1="71.55" y1="843.60" x2="75.95" y2="843.60" stroke="#222" stroke-width="1.1"/>
<line x1="71.55" y1="845.60" x2="75.95" y2="845.60" stroke="#222" stroke-width="1.1"/>
<rect x="81.00" y="837.90" width="8.50" height="12.35" fill="#0a0a0a"/>
<line x1="85.25" y1="833.00" x2="85.25" y2="837.90" stroke="#111" stroke-width="1.1"/>
<line x1="83.05" y1="833.00" x2="87.45" y2="833.00" stroke="#111" stroke-width="1.1"/>
<rect x="101.50" y="836.50" width="7.50" height="13.75" fill="#b2b2b2" stroke="#151515" stroke-width="1.3"/>
<line x1="105.25" y1="835.50" x2="105.25" y2="837.50" stroke="#222" stroke-width="1.1"/>
<line x1="103.05" y1="835.50" x2="107.45" y2="835.50" stroke="#222" stroke-width="1.1"/>
<line x1="103.05" y1="837.50" x2="107.45" y2="837.50" stroke="#222" stroke-width="1.1"/>
<rect x="112.50" y="829.20" width="8.50" height="21.05" fill="#0a0a0a"/>
<line x1="116.75" y1="826.00" x2="116.75" y2="829.20" stroke="#111" stroke-width="1.1"/>
<line x1="114.55" y1="826.00" x2="118.95" y2="826.00" stroke="#111" stroke-width="1.1"/>
<rect x="133.00" y="823.00" width="7.50" height="27.25" fill="#b2b2b2" stroke="#151515" stroke-width="1.3"/>
<line x1="136.75" y1="821.00" x2="136.75" y2="825.00" stroke="#222" stroke-width="1.1"/>
<line x1="134.55" y1="821.00" x2="138.95" y2="821.00" stroke="#222" stroke-width="1.1"/>
<line x1="134.55" y1="825.00" x2="138.95" y2="825.00" stroke="#222" stroke-width="1.1"/>
<rect x="144.00" y="825.00" width="8.50" height="25.25" fill="#0a0a0a"/>
<line x1="148.25" y1="820.00" x2="148.25" y2="825.00" stroke="#111" stroke-width="1.1"/>
<line x1="146.05" y1="820.00" x2="150.45" y2="820.00" stroke="#111" stroke-width="1.1"/>
<rect x="164.00" y="797.00" width="7.50" height="53.25" fill="#b2b2b2" stroke="#151515" stroke-width="1.3"/>
<line x1="167.75" y1="794.50" x2="167.75" y2="799.50" stroke="#222" stroke-width="1.1"/>
<line x1="165.55" y1="794.50" x2="169.95" y2="794.50" stroke="#222" stroke-width="1.1"/>
<line x1="165.55" y1="799.50" x2="169.95" y2="799.50" stroke="#222" stroke-width="1.1"/>
<rect x="175.00" y="810.50" width="8.50" height="39.75" fill="#0a0a0a"/>
<line x1="179.25" y1="806.25" x2="179.25" y2="810.50" stroke="#111" stroke-width="1.1"/>
<line x1="177.05" y1="806.25" x2="181.45" y2="806.25" stroke="#111" stroke-width="1.1"/>
<path d="M64.00 769.25V850.25H189.50" stroke="#111" stroke-width="1.3" fill="none"/>
<line x1="60.50" y1="769.25" x2="64.00" y2="769.25" stroke="#111" stroke-width="1.3"/>
<text x="60.20" y="773.21" font-size="11" text-anchor="end" stroke="#111" stroke-width="0.28">80</text>
<line x1="60.50" y1="790.00" x2="64.00" y2="790.00" stroke="#111" stroke-width="1.3"/>
<text x="60.20" y="793.96" font-size="11" text-anchor="end" stroke="#111" stroke-width="0.28">60</text>
<line x1="60.50" y1="810.75" x2="64.00" y2="810.75" stroke="#111" stroke-width="1.3"/>
<text x="60.20" y="814.71" font-size="11" text-anchor="end" stroke="#111" stroke-width="0.28">40</text>
<line x1="60.50" y1="831.50" x2="64.00" y2="831.50" stroke="#111" stroke-width="1.3"/>
<text x="60.20" y="835.46" font-size="11" text-anchor="end" stroke="#111" stroke-width="0.28">20</text>
<line x1="60.50" y1="850.25" x2="64.00" y2="850.25" stroke="#111" stroke-width="1.3"/>
<text x="60.20" y="854.21" font-size="11" text-anchor="end" stroke="#111" stroke-width="0.28">0</text>
<line x1="79.50" y1="850.25" x2="79.50" y2="854.75" stroke="#111" stroke-width="1.3"/>
<line x1="111.00" y1="850.25" x2="111.00" y2="854.75" stroke="#111" stroke-width="1.3"/>
<line x1="142.50" y1="850.25" x2="142.50" y2="854.75" stroke="#111" stroke-width="1.3"/>
<line x1="173.50" y1="850.25" x2="173.50" y2="854.75" stroke="#111" stroke-width="1.3"/>
<text x="118.50" y="764.25" font-size="11" text-anchor="middle" stroke="#111" stroke-width="0.28">Blood</text>
<text x="41.60" y="806.70" font-size="11.2" text-anchor="middle" transform="rotate(-90 41.60 806.70)" stroke="#111" stroke-width="0.28" textLength="97.6" lengthAdjust="spacingAndGlyphs">% inDonor NK cells</text>
<text x="82.50" y="862.75" font-size="11.5" text-anchor="end" transform="rotate(-45 82.50 862.75)" stroke="#111" stroke-width="0.28">DN</text>
<text x="114.00" y="862.75" font-size="11.5" text-anchor="end" transform="rotate(-45 114.00 862.75)" stroke="#111" stroke-width="0.28">CD27 SP</text>
<text x="145.50" y="862.75" font-size="11.5" text-anchor="end" transform="rotate(-45 145.50 862.75)" stroke="#111" stroke-width="0.28">DP</text>
<text x="176.50" y="862.75" font-size="11.5" text-anchor="end" transform="rotate(-45 176.50 862.75)" stroke="#111" stroke-width="0.28">CD11b SP</text>
<path d="M104.20 831.20V810.70H117.50V816.20" stroke="#111" stroke-width="1.25" fill="none"/>
<text x="110.85" y="811.00" font-size="8.5" text-anchor="middle" stroke="#111" stroke-width="0.28">**</text>
<path d="M166.50 788.50V783.60H180.00V791.70" stroke="#111" stroke-width="1.25" fill="none"/>
<text x="173.25" y="783.90" font-size="8.5" text-anchor="middle" stroke="#111" stroke-width="0.28">*</text>
<rect x="243.00" y="845.00" width="7.50" height="5.00" fill="#b2b2b2" stroke="#151515" stroke-width="1.3"/>
<line x1="246.75" y1="844.30" x2="246.75" y2="845.70" stroke="#222" stroke-width="1.1"/>
<line x1="244.55" y1="844.30" x2="248.95" y2="844.30" stroke="#222" stroke-width="1.1"/>
<line x1="244.55" y1="845.70" x2="248.95" y2="845.70" stroke="#222" stroke-width="1.1"/>
<rect x="254.00" y="838.00" width="8.50" height="12.00" fill="#0a0a0a"/>
<line x1="258.25" y1="835.75" x2="258.25" y2="838.00" stroke="#111" stroke-width="1.1"/>
<line x1="256.05" y1="835.75" x2="260.45" y2="835.75" stroke="#111" stroke-width="1.1"/>
<rect x="275.00" y="810.50" width="7.50" height="39.50" fill="#b2b2b2" stroke="#151515" stroke-width="1.3"/>
<line x1="278.75" y1="807.50" x2="278.75" y2="813.75" stroke="#222" stroke-width="1.1"/>
<line x1="276.55" y1="807.50" x2="280.95" y2="807.50" stroke="#222" stroke-width="1.1"/>
<line x1="276.55" y1="813.75" x2="280.95" y2="813.75" stroke="#222" stroke-width="1.1"/>
<rect x="286.00" y="789.50" width="8.50" height="60.50" fill="#0a0a0a"/>
<line x1="290.25" y1="782.50" x2="290.25" y2="789.50" stroke="#111" stroke-width="1.1"/>
<line x1="288.05" y1="782.50" x2="292.45" y2="782.50" stroke="#111" stroke-width="1.1"/>
<rect x="306.00" y="793.00" width="7.50" height="57.00" fill="#b2b2b2" stroke="#151515" stroke-width="1.3"/>
<line x1="309.75" y1="789.25" x2="309.75" y2="797.00" stroke="#222" stroke-width="1.1"/>
<line x1="307.55" y1="789.25" x2="311.95" y2="789.25" stroke="#222" stroke-width="1.1"/>
<line x1="307.55" y1="797.00" x2="311.95" y2="797.00" stroke="#222" stroke-width="1.1"/>
<rect x="317.00" y="801.25" width="8.50" height="48.75" fill="#0a0a0a"/>
<line x1="321.25" y1="793.25" x2="321.25" y2="801.25" stroke="#111" stroke-width="1.1"/>
<line x1="319.05" y1="793.25" x2="323.45" y2="793.25" stroke="#111" stroke-width="1.1"/>
<rect x="337.50" y="790.50" width="7.50" height="59.50" fill="#b2b2b2" stroke="#151515" stroke-width="1.3"/>
<line x1="341.25" y1="786.25" x2="341.25" y2="794.50" stroke="#222" stroke-width="1.1"/>
<line x1="339.05" y1="786.25" x2="343.45" y2="786.25" stroke="#222" stroke-width="1.1"/>
<line x1="339.05" y1="794.50" x2="343.45" y2="794.50" stroke="#222" stroke-width="1.1"/>
<rect x="348.50" y="809.50" width="8.50" height="40.50" fill="#0a0a0a"/>
<line x1="352.75" y1="803.00" x2="352.75" y2="809.50" stroke="#111" stroke-width="1.1"/>
<line x1="350.55" y1="803.00" x2="354.95" y2="803.00" stroke="#111" stroke-width="1.1"/>
<path d="M237.50 768.75V850.00H362.50" stroke="#111" stroke-width="1.3" fill="none"/>
<line x1="234.00" y1="768.75" x2="237.50" y2="768.75" stroke="#111" stroke-width="1.3"/>
<text x="233.70" y="772.71" font-size="11" text-anchor="end" stroke="#111" stroke-width="0.28">50</text>
<line x1="234.00" y1="785.50" x2="237.50" y2="785.50" stroke="#111" stroke-width="1.3"/>
<text x="233.70" y="789.46" font-size="11" text-anchor="end" stroke="#111" stroke-width="0.28">40</text>
<line x1="234.00" y1="802.00" x2="237.50" y2="802.00" stroke="#111" stroke-width="1.3"/>
<text x="233.70" y="805.96" font-size="11" text-anchor="end" stroke="#111" stroke-width="0.28">30</text>
<line x1="234.00" y1="818.75" x2="237.50" y2="818.75" stroke="#111" stroke-width="1.3"/>
<text x="233.70" y="822.71" font-size="11" text-anchor="end" stroke="#111" stroke-width="0.28">20</text>
<line x1="234.00" y1="834.50" x2="237.50" y2="834.50" stroke="#111" stroke-width="1.3"/>
<text x="233.70" y="838.46" font-size="11" text-anchor="end" stroke="#111" stroke-width="0.28">10</text>
<line x1="234.00" y1="850.00" x2="237.50" y2="850.00" stroke="#111" stroke-width="1.3"/>
<text x="233.70" y="853.96" font-size="11" text-anchor="end" stroke="#111" stroke-width="0.28">0</text>
<line x1="252.50" y1="850.00" x2="252.50" y2="854.50" stroke="#111" stroke-width="1.3"/>
<line x1="284.50" y1="850.00" x2="284.50" y2="854.50" stroke="#111" stroke-width="1.3"/>
<line x1="315.50" y1="850.00" x2="315.50" y2="854.50" stroke="#111" stroke-width="1.3"/>
<line x1="347.00" y1="850.00" x2="347.00" y2="854.50" stroke="#111" stroke-width="1.3"/>
<text x="290.75" y="764.25" font-size="11" text-anchor="middle" stroke="#111" stroke-width="0.28">Liver</text>
<text x="215.50" y="806.70" font-size="11.2" text-anchor="middle" transform="rotate(-90 215.50 806.70)" stroke="#111" stroke-width="0.28" textLength="97.6" lengthAdjust="spacingAndGlyphs">% inDonor NK cells</text>
<text x="255.50" y="862.50" font-size="11.5" text-anchor="end" transform="rotate(-45 255.50 862.50)" stroke="#111" stroke-width="0.28">DN</text>
<text x="287.50" y="862.50" font-size="11.5" text-anchor="end" transform="rotate(-45 287.50 862.50)" stroke="#111" stroke-width="0.28">CD27 SP</text>
<text x="318.50" y="862.50" font-size="11.5" text-anchor="end" transform="rotate(-45 318.50 862.50)" stroke="#111" stroke-width="0.28">DP</text>
<text x="350.00" y="862.50" font-size="11.5" text-anchor="end" transform="rotate(-45 350.00 862.50)" stroke="#111" stroke-width="0.28">CD11b SP</text>
<path d="M246.00 836.25V828.00H259.50V831.25" stroke="#111" stroke-width="1.25" fill="none"/>
<text x="252.75" y="828.30" font-size="8.5" text-anchor="middle" stroke="#111" stroke-width="0.28">**</text>
<path d="M276.50 804.50V773.75H289.50V780.00" stroke="#111" stroke-width="1.25" fill="none"/>
<text x="283.00" y="774.05" font-size="8.5" text-anchor="middle" stroke="#111" stroke-width="0.28">**</text>
<path d="M340.50 782.50V778.75H354.00V791.25" stroke="#111" stroke-width="1.25" fill="none"/>
<text x="347.25" y="779.05" font-size="8.5" text-anchor="middle" stroke="#111" stroke-width="0.28">*</text>
</g>
</svg></body></html>
